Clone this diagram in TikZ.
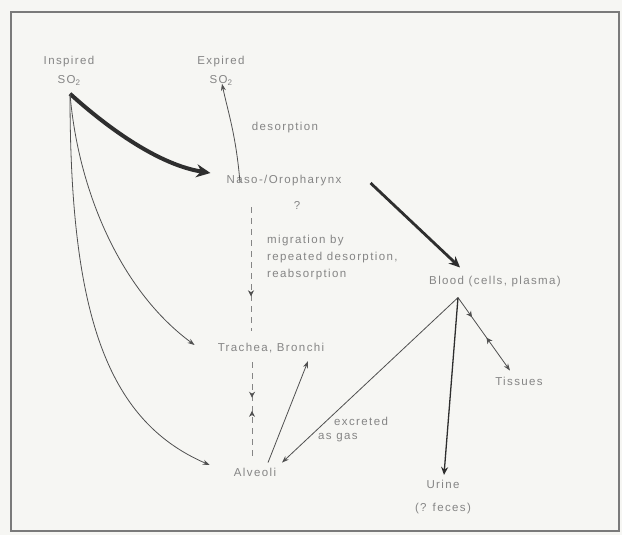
\documentclass[tikz,border=0pt]{standalone}
\usepackage{fontspec}
\setmainfont[LetterSpace=12]{Liberation Sans}
\usetikzlibrary{arrows.meta,decorations.markings,calc}
\definecolor{paper}{HTML}{F6F6F3}
\definecolor{txtgray}{HTML}{858585}
\definecolor{inkdark}{HTML}{2E2E2E}
\definecolor{inkmid}{HTML}{505050}
\definecolor{framegray}{HTML}{7A7A7A}
\begin{document}
\begin{tikzpicture}[x=1pt,y=-1pt,
  lbl/.style={text=txtgray, font=\fontsize{11.5}{19}\selectfont, inner sep=2pt, align=center},
  flow/.style={draw=inkmid, line width=0.8pt, -{Stealth[length=7pt,width=5pt]}},
  heavy/.style={draw=inkdark, line width=4pt, -{Stealth[length=14pt,width=13pt]}},
  medium/.style={draw=inkdark, line width=2.8pt, -{Stealth[length=11pt,width=10pt]}},
  dashline/.style={draw=txtgray, line width=0.7pt, dash pattern=on 6pt off 5pt},
]
\useasboundingbox (0,0) rectangle (622,535);
\fill[paper] (0,0) rectangle (622,535);
\draw[framegray, line width=1.2pt] (11,12) rectangle (619,531);

% nodes
\node[lbl] (insp) at (69,71) {Inspired\\SO\textsubscript{2}};
\node[lbl] (exp) at (221,71) {Expired\\SO\textsubscript{2}};
\node[lbl] (desorp) at (285,128) {desorption};
\node[lbl] (naso) at (284,181) {Naso-/Oropharynx};
\node[lbl] (q) at (297,205) {?};
\node[lbl, align=left, anchor=north west, font=\fontsize{11.5}{17}\selectfont] (migr) at (265,233) {migration by\\repeated desorption,\\reabsorption};
\node[lbl] (blood) at (495,282) {Blood (cells, plasma)};
\node[lbl] (trach) at (271,348) {Trachea, Bronchi};
\node[lbl] (tiss) at (519,381) {Tissues};
\node[lbl, align=left, anchor=north west, font=\fontsize{11.5}{13.5}\selectfont] (excr) at (316,415) {\hspace*{16pt}excreted\\as gas};
\node[lbl] (alv) at (255,472) {Alveoli};
\node[lbl, font=\fontsize{11.5}{23}\selectfont] (urine) at (443,497) {Urine\\(? feces)};

% coordinates for connector ends
\coordinate (src) at ($(insp.south)+(1,6)$);
\coordinate (nasoL) at ($(naso.west)+(-14,-8)$);
\coordinate (nasoR) at ($(naso.east)+(27,2)$);
\coordinate (nasoUp) at ($(naso.north)+(-44,9)$);
\coordinate (expIn) at ($(exp.south)+(1,-4)$);
\coordinate (bloodIn) at ($(blood.north)+(-35,-7)$);
\coordinate (split) at ($(blood.south)+(-37,8)$);
\coordinate (trachIn) at ($(trach.west)+(-21,-3)$);
\coordinate (alvIn) at ($(alv.west)+(-22,-7)$);
\coordinate (alvR) at ($(alv.north)+(27,-3)$);
\coordinate (alvOut) at ($(alv.north)+(13,-3)$);
\coordinate (trachOut) at ($(trach.south)+(37,6)$);
\coordinate (tissIn) at ($(tiss.north)+(-9,-4)$);
\coordinate (urineIn) at ($(urine.north)+(1,-3)$);
\coordinate (d1) at (251,207);
\coordinate (d2) at (251,331);
\coordinate (d3) at (252,362);
\coordinate (d4) at (252,456);

% thick inflow to naso
\draw[heavy] (src) .. controls (110,130) and (160,165) .. (nasoL);
% to trachea and alveoli
\draw[flow] (src) .. controls (78,190) and (120,290) .. (trachIn);
\draw[flow] (src) .. controls (70,310) and (105,420) .. (alvIn);
% desorption
\draw[flow] (nasoUp) .. controls (236,135) and (228,112) .. (expIn);
% naso to blood
\draw[medium] (nasoR) -- (bloodIn);
% dashed migration
\draw[dashline, postaction={decorate}, decoration={markings,
   mark=at position 0.72 with {\arrow[inkmid]{Stealth[length=6pt,width=6pt]}}}] (d1) -- (d2);
\draw[dashline, postaction={decorate}, decoration={markings,
   mark=at position 0.38 with {\arrow[inkmid]{Stealth[length=6pt,width=6pt]}},
   mark=at position 0.52 with {\arrowreversed[inkmid]{Stealth[length=6pt,width=6pt]}}}] (d3) -- (d4);
% alveoli to trachea
\draw[flow] (alvOut) -- (trachOut);
% blood to alveoli
\draw[flow] (split) -- (alvR);
% blood to tissues
\draw[flow, postaction={decorate}, decoration={markings,
   mark=at position 0.27 with {\arrow[inkmid]{Stealth[length=6pt,width=6pt]}},
   mark=at position 0.55 with {\arrowreversed[inkmid]{Stealth[length=6pt,width=6pt]}}}] (split) -- (tissIn);
% blood to urine
\draw[draw=inkdark, line width=1.3pt, -{Stealth[length=8pt,width=7pt]}] (split) -- (urineIn);
\end{tikzpicture}
\end{document}
